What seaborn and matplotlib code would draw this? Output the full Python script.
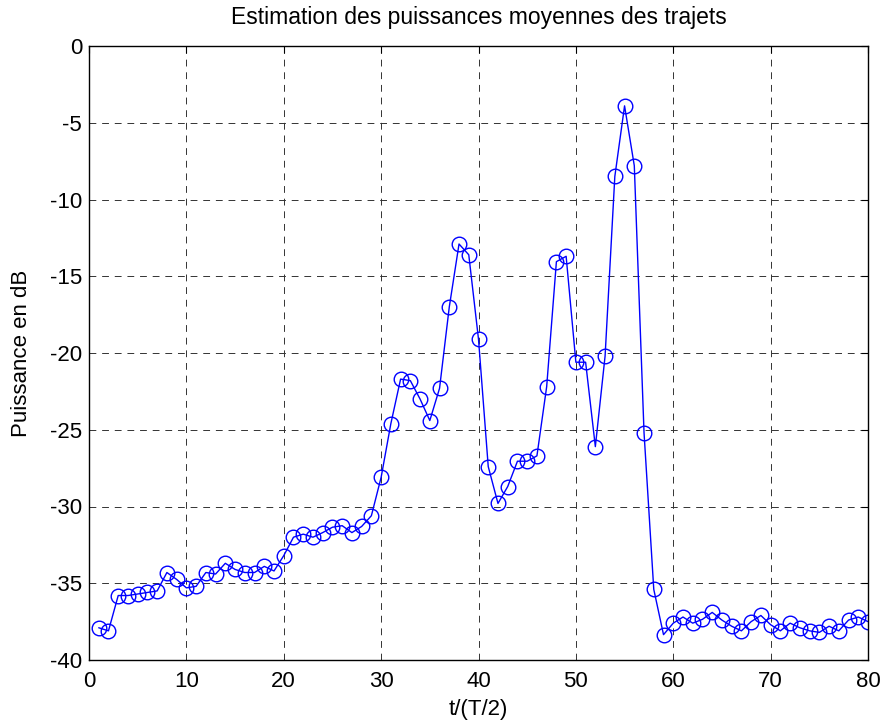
import matplotlib
matplotlib.use("Agg")
import matplotlib.pyplot as plt
import seaborn as sns
import pandas as pd
import numpy as np

t = list(range(1, 81))
puissance_db = [
    -37.9, -38.1, -35.8, -35.8, -35.7, -35.6, -35.5, -34.3, -34.75, -35.3,
    -35.2, -34.3, -34.4, -33.7, -34.1, -34.3, -34.3, -33.9, -34.2, -33.2,
    -32.0, -31.8, -32.0, -31.7, -31.35, -31.25, -31.7, -31.3, -30.6, -28.1,
    -24.6, -21.7, -21.8, -23.0, -24.4, -22.3, -17.0, -12.9, -13.6, -19.1,
    -27.4, -29.8, -28.7, -27.05, -27.05, -26.7, -22.2, -14.05, -13.7, -20.6,
    -20.6, -26.1, -20.2, -8.5, -3.9, -7.8, -25.2, -35.4, -38.35, -37.6,
    -37.2, -37.6, -37.35, -36.9, -37.4, -37.8, -38.1, -37.5, -37.1, -37.7,
    -38.1, -37.6, -37.9, -38.1, -38.2, -37.8, -38.1, -37.4, -37.2, -37.5,
]
x_ticks = [0, 10, 20, 30, 40, 50, 60, 70, 80]
y_ticks = [0, -5, -10, -15, -20, -25, -30, -35, -40]

title = "Estimation des puissances moyennes des trajets"
xlabel = "t/(T/2)"
ylabel = "Puissance en dB"

sns.set_style("white")
plt.rcParams['font.family'] = ['Liberation Sans', 'DejaVu Sans']
plt.rcParams['text.color'] = 'black'
plt.rcParams['axes.labelcolor'] = 'black'
plt.rcParams['xtick.color'] = 'black'
plt.rcParams['ytick.color'] = 'black'

df = pd.DataFrame({"t": t, "p": puissance_db})

fig = plt.figure(figsize=(8.85, 7.24), dpi=100)
ax = fig.add_axes([89/885, 1 - 660/724, (868 - 89)/885, (660 - 46)/724])

sns.lineplot(data=df, x="t", y="p", ax=ax, color="blue", linewidth=1.0,
             marker="o", markersize=10.5, markerfacecolor="none",
             markeredgecolor="blue", markeredgewidth=1.0)

FS = 16
ax.set_xlim(0, 80)
ax.set_ylim(-40, 0)
ax.set_xticks(x_ticks)
ax.set_yticks(y_ticks)
ax.set_xticklabels([str(v) for v in x_ticks])
ax.set_yticklabels([str(v) for v in y_ticks])
ax.grid(True, color="#333333", linestyle=(0, (7, 6)), linewidth=0.7)
ax.set_axisbelow(True)
ax.tick_params(direction="in", length=5, width=0.8, top=True, right=True,
               labelsize=FS, colors="black")
ax.tick_params(axis="x", pad=8)
ax.tick_params(axis="y", pad=5)
for s in ax.spines.values():
    s.set_color("black")
    s.set_linewidth(1.0)
    s.set_visible(True)

ax.set_title(title, fontsize=16.5, pad=15.5, color="black")
ax.set_xlabel(xlabel, fontsize=FS, labelpad=5)
ax.set_ylabel(ylabel, fontsize=FS, labelpad=13)

fig.savefig("out.png", dpi=100, facecolor="white")
